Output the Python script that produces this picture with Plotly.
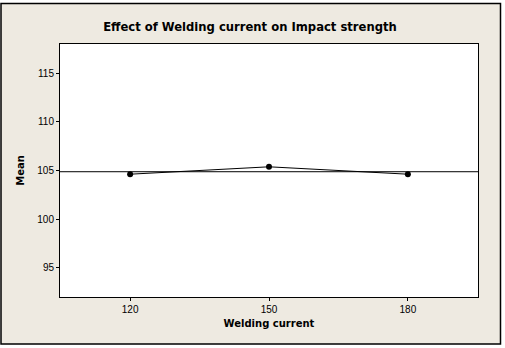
import plotly.graph_objects as go

levels = [120, 150, 180]
means = [104.62, 105.38, 104.62]
y_ticks = [95, 100, 105, 110, 115]
overall_mean = sum(means) / len(means)

W, H = 505, 348
L, R, T, B = 60, 27, 44, 51
pw, ph = W - L - R, H - T - B

def px2x(px):
    return (px - L) / pw

def py2y(py):
    return (H - B - py) / ph

fig = go.Figure()
fig.add_trace(go.Scatter(
    x=levels, y=means, mode="lines+markers",
    line=dict(color="black", width=1),
    marker=dict(color="black", size=6),
    showlegend=False, hoverinfo="skip",
))

fig.add_shape(type="rect", xref="paper", yref="paper",
              x0=px2x(1), x1=px2x(500.5), y0=py2y(344), y1=py2y(3.5),
              line=dict(color="black", width=1.5), fillcolor="#EEEAE1", layer="below")
fig.add_shape(type="rect", xref="paper", yref="paper",
              x0=0, x1=1, y0=0, y1=1,
              line=dict(width=0), fillcolor="white", layer="below")
fig.add_shape(type="line", xref="paper", yref="y", x0=0, x1=1,
              y0=overall_mean, y1=overall_mean,
              line=dict(color="black", width=1), layer="above")

axis_font = dict(family="Liberation Sans, Arial, sans-serif", size=10, color="black")
fig.update_layout(
    width=W, height=H,
    margin=dict(l=L, r=R, t=T, b=B, pad=0),
    paper_bgcolor="white",
    plot_bgcolor="rgba(0,0,0,0)",
    title=dict(text="<b>Effect of Welding current on Impact strength</b>",
               x=px2x(250), xanchor="center", xref="paper",
               y=1 - 27 / H, yanchor="middle",
               font=dict(family="DejaVu Sans, sans-serif", size=11.6, color="black")),
    xaxis=dict(range=[104.85, 195.15], tickvals=levels, ticktext=[str(v) for v in levels],
               showline=True, linecolor="black", linewidth=1, mirror=True,
               ticks="outside", ticklen=3, tickcolor="black", showgrid=False, zeroline=False,
               tickfont=axis_font,
               title=dict(text="<b>Welding current</b>", standoff=5,
                          font=dict(family="DejaVu Sans, sans-serif", size=10, color="black"))),
    yaxis=dict(range=[92, 118], tickvals=y_ticks,
               showline=True, linecolor="black", linewidth=1, mirror=True,
               ticks="outside", ticklen=3, tickcolor="black", showgrid=False, zeroline=False,
               tickfont=axis_font,
               title=dict(text="<b>Mean</b>", standoff=10,
                          font=dict(family="DejaVu Sans, sans-serif", size=10, color="black"))),
)

fig.write_html("out.html")
